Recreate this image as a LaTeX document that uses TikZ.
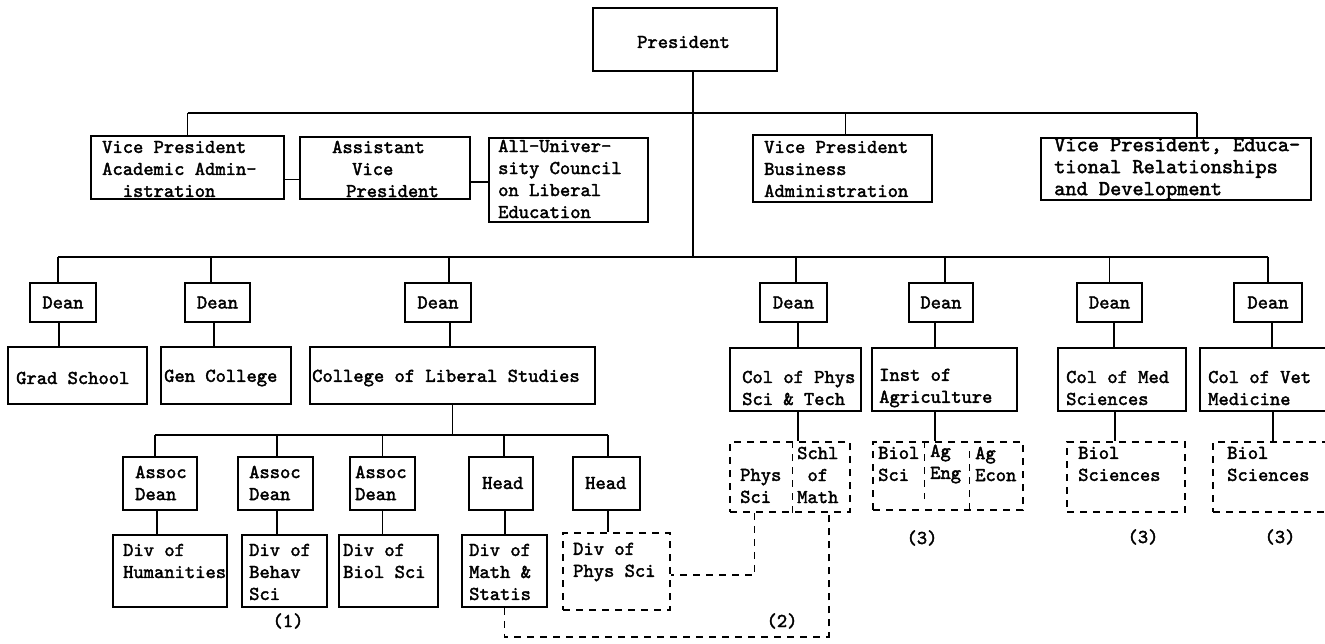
\documentclass[tikz,border=0pt]{standalone}
\usepackage{fontspec}
\newfontfamily\twfont{lmmono10-regular.otf}[FakeBold=2]
% box given by its corners: name, x0, y0, x1, y1 (y grows downward)
\newcommand\orgbox[6][solidbox]{%
  \node[#1,minimum width={(#5-#3)*1pt},minimum height={(#6-#4)*1pt}]
    (#2) at ({(#3+#5)/2},{(#4+#6)/2}) {};}
\begin{document}
\begin{tikzpicture}[x=1pt,y=-1pt,
  orgline/.style={line width=1.6pt},
  solidbox/.style={draw,line width=1.6pt,inner sep=0pt},
  dashbox/.style={draw,line width=1.5pt,dash pattern=on 7pt off 6pt,inner sep=0pt},
  dashline/.style={line width=1.5pt,dash pattern=on 7pt off 6pt},
  txt/.style={inner sep=0pt,anchor=west,align=left,font=\twfont\fontsize{19.6}{22}\selectfont},
  widetxt/.style={txt,font=\twfont\fontsize{21.3}{22}\selectfont},
  ctxt/.style={txt,anchor=center,align=center},
]
\fill[white] (0,0) rectangle (1325,643);
\useasboundingbox (0,0) rectangle (1325,643);
\clip (0,0) rectangle (1325,643);

% ---------- boxes ----------
\orgbox{pres}{593}{8}{777}{71}
\orgbox{vpa}{91}{136}{284}{199}
\orgbox{avp}{300}{137}{470}{199}
\orgbox{auc}{489}{138}{648}{222}
\orgbox{vpb}{753}{135}{932}{202}
\orgbox{vpe}{1041}{138}{1311}{200}

\orgbox{d1}{30}{283}{96}{322}
\orgbox{d2}{185}{283}{250}{322}
\orgbox{d3}{405}{283}{471}{322}
\orgbox{d4}{760}{283}{827}{322}
\orgbox{d5}{909}{283}{973}{322}
\orgbox{d6}{1077}{283}{1142}{322}
\orgbox{d7}{1234}{283}{1302}{322}

\orgbox{grad}{8}{347}{147}{404}
\orgbox{gen}{161}{347}{291}{404}
\orgbox{cls}{310}{347}{595}{404}
\orgbox{cps}{730}{348}{861}{411}
\orgbox{iag}{872}{348}{1017}{411}
\orgbox{cmed}{1058}{348}{1186}{411}
\orgbox{cvet}{1200}{348}{1346}{411}

\orgbox{ad1}{123}{457}{197}{510}
\orgbox{ad2}{238}{457}{313}{510}
\orgbox{ad3}{350}{457}{415}{510}
\orgbox{hd1}{469}{457}{533}{510}
\orgbox{hd2}{573}{457}{640}{510}

\orgbox{dhum}{113}{535}{227}{607}
\orgbox{dbeh}{242}{535}{327}{607}
\orgbox{dbio}{339}{535}{438}{607}
\orgbox{dmat}{462}{535}{547}{607}
\orgbox[dashbox]{dphy}{563}{533}{670}{610}

\orgbox[dashbox]{psm}{730}{442}{850}{512}
\orgbox[dashbox]{agsub}{873}{442}{1023}{510}
\orgbox[dashbox]{bmed}{1067}{442}{1185}{512}
\orgbox[dashbox]{bvet}{1213}{442}{1340}{512}

% ---------- texts ----------
\node[txt] (tpres) at (637,42) {President};
\node[txt] (tvpa) at (102,169) {Vice President\\Academic Admin-\\\phantom{Ac}istration};
\node[txt] (tavp) at (332,169) {Assistant\\\hspace*{20pt}Vice\\\hspace*{14pt}President};
\node[txt] (tauc) at (498,179) {All-Univer-\\sity Council\\on Liberal\\Education};
\node[txt] (tvpb) at (764,169) {Vice President\\Business\\Administration};
\node[widetxt] (tvpe) at (1054,169) {Vice President, Educa-\\tional Relationships\\and Development};

\foreach \d in {d1,d2,d3,d4,d5,d6,d7}
  \node[ctxt] (t\d) at (\d) {Dean};

\node[txt] (tgrad) at (16,378) {Grad School};
\node[txt] (tgen) at (164,378) {Gen College};
\node[txt] (tcls) at (312,378) {College of Liberal Studies};
\node[txt] (tcps) at (742,388) {Col of Phys\\Sci \& Tech};
\node[txt] (tiag) at (879,388) {Inst of\\Agriculture};
\node[txt] (tcmed) at (1066,388) {Col of Med\\Sciences};
\node[txt] (tcvet) at (1208,388) {Col of Vet\\Medicine};

\node[txt] (tad1) at (135,483) {Assoc\\Dean};
\node[txt] (tad2) at (249,483) {Assoc\\Dean};
\node[txt] (tad3) at (355,483) {Assoc\\Dean};
\node[txt] (thd1) at (482,483) {Head};
\node[txt] (thd2) at (585,483) {Head};

\node[txt] (tdhum) at (123,561) {Div of\\Humanities};
\node[txt] (tdbeh) at (249,572) {Div of\\Behav\\Sci};
\node[txt] (tdbio) at (343,561) {Div of\\Biol Sci};
\node[txt] (tdmat) at (469,572) {Div of\\Math \&\\Statis};
\node[txt] (tdphy) at (573,562) {Div of\\Phys Sci};

\node[txt] (tphys) at (740,486) {Phys\\Sci};
\node[txt] (tschl) at (797,475) {Schl\\\phantom{S}of\\Math};
\node[txt] (tbiol) at (878,464) {Biol\\Sci};
\node[txt] (tageng) at (930,464) {Ag\\Eng};
\node[txt] (tagecon) at (975,464) {Ag\\Econ};
\node[txt] (tbmed) at (1078,464) {Biol\\Sciences};
\node[txt] (tbvet) at (1227,464) {Biol\\Sciences};

\node[ctxt] (n1) at (288,621) {(1)};
\node[ctxt] (n2) at (782,621) {(2)};
\node[ctxt] (n3a) at (922,538) {(3)};
\node[ctxt] (n3b) at (1143,537) {(3)};
\node[ctxt] (n3c) at (1280,537) {(3)};

% ---------- connectors ----------
\coordinate (barA) at (0,113);
\coordinate (barB) at (0,257);
\coordinate (barC) at (0,435);
\coordinate (low) at (0,637);

% president and vice presidents
\draw[orgline] ([xshift=8pt]pres.south) -- ([xshift=8pt]pres.south |- barB);
\draw[orgline] (vpa.north |- barA) -- ([xshift=21pt]vpe.north |- barA);
\draw[orgline] (vpa.north) -- (vpa.north |- barA);
\draw[orgline] ([xshift=3pt]vpb.north) -- ([xshift=3pt]vpb.north |- barA);
\draw[orgline] ([xshift=21pt]vpe.north) -- ([xshift=21pt]vpe.north |- barA);
\draw[orgline] ([yshift=-12pt]vpa.east) -- ([yshift=-12pt]vpa.east -| avp.west);
\draw[orgline] ([yshift=-14pt]avp.east) -- ([yshift=-14pt]avp.east -| auc.west);

% deans and their colleges
\draw[orgline] ([xshift=-5pt]d1.north |- barB) -- (d7.north |- barB);
\foreach \d/\c/\s/\t in {d1/grad/-5/-4, d2/gen/-6.5/-3.5, d3/cls/11/12,
    d4/cps/2.5/4.5, d5/iag/4/-6, d6/cmed/0/4.5, d7/cvet/0/4}{
  \draw[orgline] ([xshift=\s pt]\d.north) -- ([xshift=\s pt]\d.north |- barB);
  \draw[orgline] ([xshift=\t pt]\d.south) -- ([xshift=\t pt]\d.south |- \c.north);
}

% college of liberal studies: divisions
\draw[orgline] (cls.south) -- (cls.south |- barC);
\draw[orgline] ([xshift=-5pt]ad1.north |- barC) -- ([xshift=1.5pt]hd2.north |- barC);
\foreach \a/\v/\s/\t in {ad1/dhum/-5/-3, ad2/dbeh/1.5/1.5, ad3/dbio/0/0,
    hd1/dmat/3/4, hd2/dphy/1.5/1.5}{
  \draw[orgline] ([xshift=\s pt]\a.north) -- ([xshift=\s pt]\a.north |- barC);
  \draw[orgline] ([xshift=\t pt]\a.south) -- ([xshift=\t pt]\a.south |- \v.north);
}

% colleges down to their subject units
\draw[orgline] ([xshift=2.5pt]cps.south) -- ([xshift=2.5pt]cps.south |- psm.north);
\draw[orgline] ([xshift=-9.5pt]iag.south) -- ([xshift=-9.5pt]iag.south |- agsub.north);
\draw[orgline] ([xshift=-7pt]cmed.south) -- ([xshift=-7pt]cmed.south |- bmed.north);
\draw[orgline] (cvet.south) -- (cvet.south |- bvet.north);

% dividers inside the shared units
\draw[dashline] ([xshift=63pt]psm.north west) -- ([xshift=63pt]psm.south west);
\draw[dashline] ([xshift=52pt]agsub.north west) -- ([xshift=52pt,yshift=12pt]agsub.south west);
\draw[dashline] ([xshift=97pt,yshift=-10pt]agsub.north west) -- ([xshift=97pt]agsub.south west);

% dashed coordination links
\draw[dashline] (dmat.south) -- (dmat.south |- low)
  -- ([xshift=-22pt]psm.south east |- low) -- ([xshift=-22pt]psm.south east);
\draw[dashline] ([xshift=25pt]psm.south west)
  -- ([xshift=25pt,yshift=-3.5pt]psm.south west |- dphy.east) -- ([yshift=-3.5pt]dphy.east);
\end{tikzpicture}
\end{document}
